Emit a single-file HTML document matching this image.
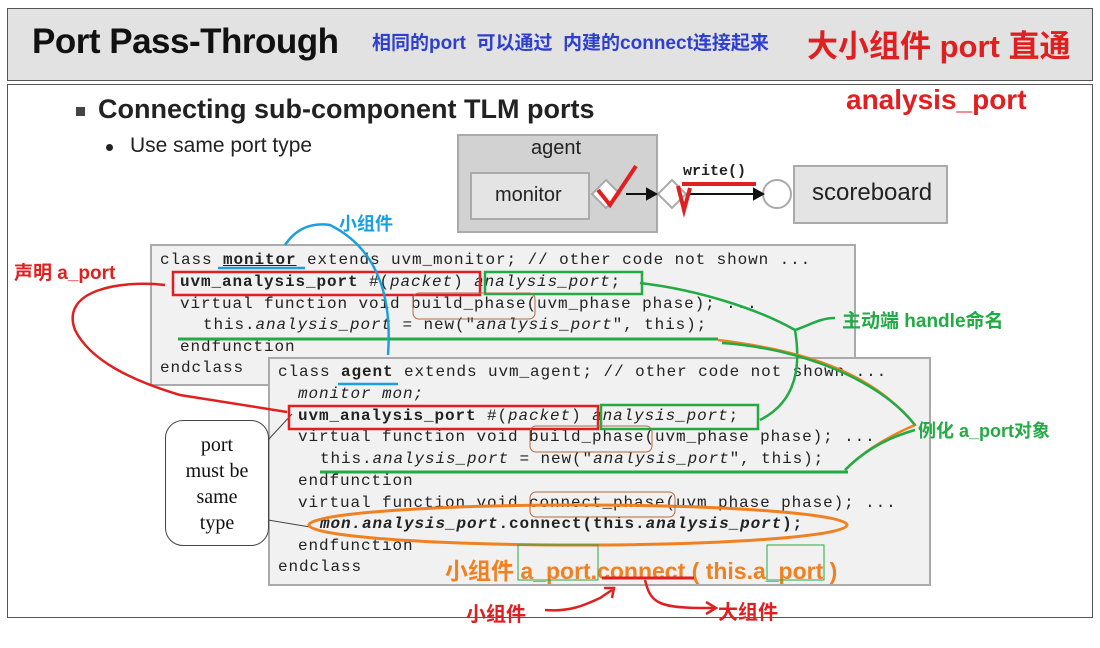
<!DOCTYPE html>
<html><head><meta charset="utf-8"><style>
body{margin:0;width:1100px;height:648px;background:#fff;position:relative;overflow:hidden;font-family:"Liberation Sans","Noto Sans CJK SC",sans-serif}
.a{position:absolute;white-space:nowrap}
.code{position:absolute;background:#f1f1f1;border:2px solid #aaa;box-sizing:border-box}
.m{font-family:"Liberation Mono",monospace;font-size:16px;color:#222;position:absolute;white-space:nowrap;letter-spacing:0.9px}
</style></head><body>
<div class="a" style="left:7px;top:8px;width:1086px;height:73px;background:#e2e2e2;border:1px solid #555;box-sizing:border-box"></div>
<div class="a" style="left:7px;top:84px;width:1086px;height:534px;border:1px solid #555;box-sizing:border-box"></div>
<div class="a" style="left:32px;top:22px;font-size:35px;font-weight:bold;color:#111;letter-spacing:-0.5px">Port Pass-Through</div>
<div class="a" style="left:372px;top:28px;font-size:19px;font-weight:bold;color:#2e3fd0">相同的port&nbsp; 可以通过&nbsp; 内建的connect连接起来</div>
<div class="a" style="left:807px;top:21px;font-size:31px;font-weight:bold;color:#e02020">大小组件 port 直通</div>
<div class="a" style="left:846px;top:84px;font-size:28px;font-weight:bold;color:#e02020">analysis_port</div>
<div class="a" style="left:76px;top:107px;width:9px;height:9px;background:#444"></div>
<div class="a" style="left:98px;top:94px;font-size:27px;font-weight:bold;color:#222">Connecting sub-component TLM ports</div>
<div class="a" style="left:106px;top:144px;width:7px;height:7px;border-radius:50%;background:#222"></div>
<div class="a" style="left:130px;top:134px;font-size:21px;color:#222">Use same port type</div>

<div class="a" style="left:457px;top:134px;width:201px;height:99px;background:#d2d2d2;border:2px solid #aaa;box-sizing:border-box"></div>
<div class="a" style="left:531px;top:137px;font-size:20px;color:#222">agent</div>
<div class="a" style="left:470px;top:172px;width:120px;height:48px;background:#e4e4e4;border:2px solid #aaa;box-sizing:border-box"></div>
<div class="a" style="left:495px;top:184px;font-size:20px;color:#222">monitor</div>
<div class="a" style="left:793px;top:165px;width:155px;height:59px;background:#e4e4e4;border:2px solid #aaa;box-sizing:border-box"></div>
<div class="a" style="left:812px;top:179px;font-size:24px;color:#222">scoreboard</div>
<div class="a" style="left:683px;top:163px;font-family:'Liberation Mono',monospace;font-size:15px;font-weight:bold;color:#222">write()</div>

<div class="code" style="left:150px;top:244px;width:706px;height:142px"></div>
<div class="m" style="left:160px;top:251px">class <b><u>monitor</u></b> extends uvm_monitor; // other code not shown ...</div>
<div class="m" style="left:180px;top:273px"><b>uvm_analysis_port</b> #(<i>packet</i>) <i>analysis_port</i>;</div>
<div class="m" style="left:180px;top:295px">virtual function void build_phase(uvm_phase phase); ...</div>
<div class="m" style="left:203px;top:316px">this.<i>analysis_port</i> = new("<i>analysis_port</i>", this);</div>
<div class="m" style="left:180px;top:338px">endfunction</div>
<div class="m" style="left:160px;top:359px">endclass</div>

<div class="code" style="left:268px;top:357px;width:663px;height:229px"></div>
<div class="m" style="left:278px;top:363px">class <b>agent</b> extends uvm_agent; // other code not shown ...</div>
<div class="m" style="left:298px;top:385px"><i>monitor mon;</i></div>
<div class="m" style="left:298px;top:407px"><b>uvm_analysis_port</b> #(<i>packet</i>) <i>analysis_port</i>;</div>
<div class="m" style="left:298px;top:428px">virtual function void build_phase(uvm_phase phase); ...</div>
<div class="m" style="left:320px;top:450px">this.<i>analysis_port</i> = new("<i>analysis_port</i>", this);</div>
<div class="m" style="left:298px;top:472px">endfunction</div>
<div class="m" style="left:298px;top:494px">virtual function void connect_phase(uvm_phase phase); ...</div>
<div class="m" style="left:320px;top:515px"><b><i>mon.analysis_port</i>.connect(this.<i>analysis_port</i>);</b></div>
<div class="m" style="left:298px;top:537px">endfunction</div>
<div class="m" style="left:278px;top:558px">endclass</div>

<div class="a" style="left:165px;top:420px;width:104px;height:126px;border:1.5px solid #444;border-radius:18px;background:#fff;box-sizing:border-box"></div>
<div class="a" style="left:165px;top:432px;width:104px;text-align:center;font-family:'Liberation Serif',serif;font-size:20px;line-height:26px;color:#111">port<br>must be<br>same<br>type</div>

<div class="a" style="left:339px;top:210px;font-size:18px;font-weight:bold;color:#1aa0e0">小组件</div>
<div class="a" style="left:14px;top:258px;font-size:19px;font-weight:bold;color:#e02020">声明 a_port</div>
<div class="a" style="left:842px;top:306px;font-size:19px;font-weight:bold;color:#22aa44">主动端 handle命名</div>
<div class="a" style="left:918px;top:417px;font-size:18px;font-weight:bold;color:#22aa44">例化 a_port对象</div>
<div class="a" style="left:445px;top:552px;font-size:23px;color:#f08020;font-weight:bold">小组件 a_port.connect ( this.a_port )</div>
<div class="a" style="left:466px;top:598px;font-size:20px;font-weight:bold;color:#e02020">小组件</div>
<div class="a" style="left:718px;top:596px;font-size:20px;font-weight:bold;color:#e02020">大组件</div>

<svg class="a" style="left:0;top:0" width="1100" height="648">
<g fill="#fff" stroke="#aaa" stroke-width="2">
<polygon points="606,180 620,194 606,208 592,194"/>
<polygon points="672,180 686,194 672,208 658,194"/>
<circle cx="777" cy="194" r="14"/>
</g>
<g stroke="#111" stroke-width="2" fill="#111">
<line x1="626" y1="194" x2="650" y2="194"/><polygon points="656,194 647,189 647,199"/>
<line x1="690" y1="194" x2="756" y2="194"/><polygon points="763,194 754,189 754,199"/>
</g>
<g stroke="#e02020" stroke-width="4" fill="none">
<path d="M598,190 L610,205 L636,166"/><path d="M678,186 L684,210 L690,188"/>
<line x1="682" y1="184" x2="756" y2="184"/>
</g>
<path d="M268,440 L292,414" stroke="#444" fill="none"/>
<path d="M268,520 L310,527" stroke="#444" fill="none"/>
<g fill="none" stroke-width="2.5">
<rect x="173" y="272" width="307" height="23" stroke="#e02020"/>
<rect x="485" y="272" width="157" height="22" stroke="#22aa44"/>
<rect x="289" y="406" width="309" height="23" stroke="#e02020"/>
<rect x="601" y="405" width="157" height="24" stroke="#22aa44"/>
<line x1="178" y1="339" x2="718" y2="339" stroke="#22aa44" stroke-width="3"/>
<line x1="320" y1="472" x2="848" y2="472" stroke="#22aa44" stroke-width="3"/>
<line x1="218" y1="268" x2="305" y2="268" stroke="#1aa0e0"/>
<line x1="338" y1="384" x2="398" y2="384" stroke="#1aa0e0"/>
<path d="M388,355 C392,300 380,250 330,225 C310,222 295,230 285,245" stroke="#1aa0e0"/>
<path d="M165,285 C120,280 60,290 75,330 C90,360 130,380 180,395 L287,412" stroke="#e02020"/>
<path d="M640,283 C700,290 760,310 795,330 C800,360 800,400 760,420" stroke="#22aa44"/>
<path d="M795,330 C810,325 820,318 835,318" stroke="#22aa44"/>
<path d="M718,340 C800,350 870,370 915,425 C880,440 860,455 845,470" stroke="#f08020"/>
<path d="M722,343 C800,348 880,380 915,425 M915,430 C880,440 860,455 845,470" stroke="#22aa44"/>
<ellipse cx="578" cy="525" rx="269" ry="20" stroke="#f08020" stroke-width="3"/>
<rect x="413" y="293" width="122" height="26" rx="6" stroke="#b06a40" stroke-width="1"/>
<rect x="530" y="426" width="122" height="26" rx="6" stroke="#b06a40" stroke-width="1"/>
<rect x="530" y="492" width="145" height="25" rx="6" stroke="#b06a40" stroke-width="1"/>
<rect x="518" y="545" width="80" height="35" stroke="#22aa44" stroke-width="1"/>
<rect x="767" y="545" width="57" height="35" stroke="#22aa44" stroke-width="1"/>
<line x1="602" y1="578" x2="694" y2="578" stroke="#e02020" stroke-width="3"/>
<path d="M545,610 C570,612 585,605 600,598 L612,590 M604,588 L614,588 L612,598" stroke="#e02020"/>
<path d="M645,580 C650,600 655,608 700,608 L715,608 M706,602 L716,608 L706,614" stroke="#e02020"/>
</g>
</svg>
</body></html>
